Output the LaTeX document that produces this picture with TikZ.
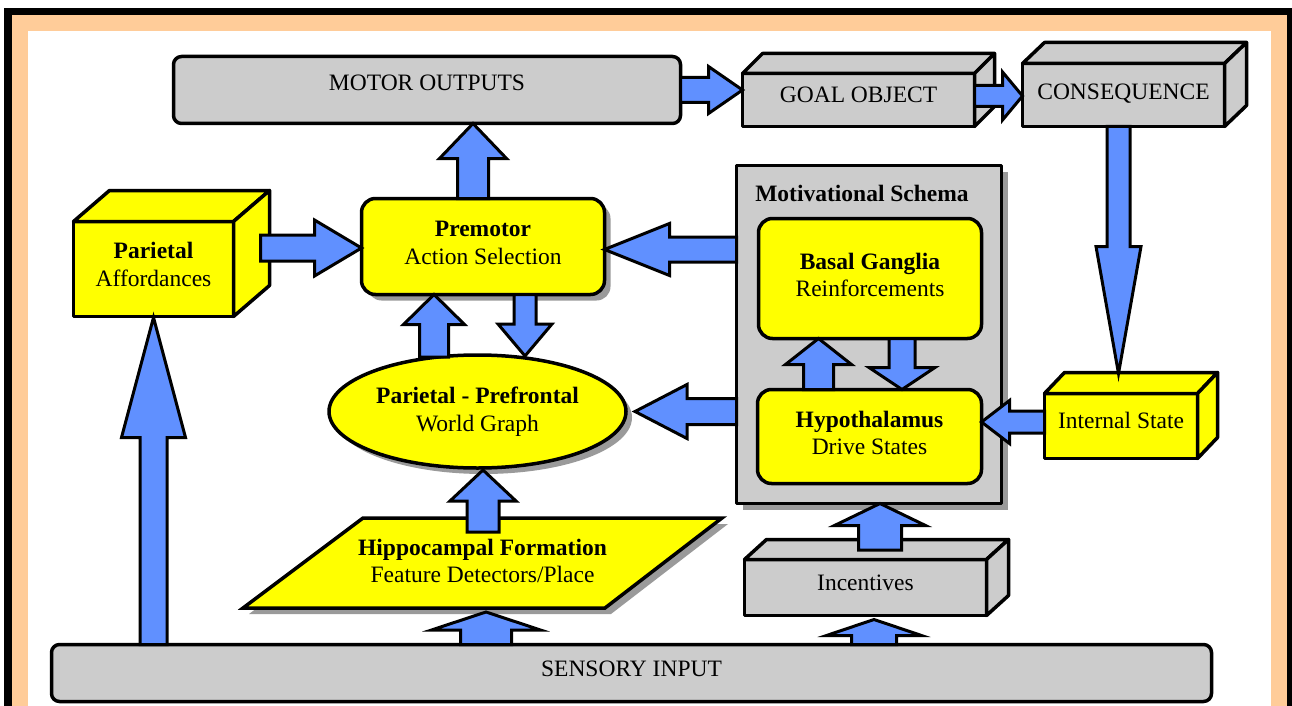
\documentclass[tikz,border=0pt]{standalone}
\usepackage{fontspec}
\setmainfont{Liberation Serif}
\usetikzlibrary{calc,shapes.geometric,shadows}
\definecolor{blu}{HTML}{6090FF}
\definecolor{org}{HTML}{FFCC99}
\definecolor{gry}{HTML}{CCCCCC}
\definecolor{yel}{HTML}{FFFF00}
\definecolor{shd}{HTML}{9A9A9A}
\tikzset{
 bx/.style={draw=black, line width=3.5pt, inner sep=0pt, outer sep=0pt, line join=round},
 rbox/.style={bx, rounded corners=8pt, fill=gry},
 ybox/.style={bx, rounded corners=14pt, fill=yel},
 shad/.style={drop shadow={shadow xshift=6pt, shadow yshift=-6pt, fill=shd, opacity=1}},
 barr/.style={draw=black, fill=blu, line width=3pt, line join=miter},
 txt/.style={font=\fontsize{23.5}{27.5}\selectfont, align=center, inner sep=0pt},
}
\newcommand\cubo[4]{%
 \draw[bx, fill=#4] (#1.north west) -- ++(#2,#3) -- ($(#1.north east)+(#2,#3)$) -- (#1.north east) -- cycle;
 \draw[bx, fill=#4] (#1.north east) -- ++(#2,#3) -- ($(#1.south east)+(#2,#3)$) -- (#1.south east) -- cycle;
}
\newcommand\blkarrow[5]{%
 \coordinate (ba-s) at (#1);
 \coordinate (ba-e) at (#2);
 \coordinate (ba-h) at ($(ba-e)!#5pt!(ba-s)$);
 \draw[barr] ($(ba-s)!#3pt!90:(ba-e)$) -- ($(ba-h)!#3pt!90:(ba-e)$) -- ($(ba-h)!#4pt!90:(ba-e)$) -- (ba-e)
   -- ($(ba-h)!#4pt!-90:(ba-e)$) -- ($(ba-h)!#3pt!-90:(ba-e)$) -- ($(ba-s)!#3pt!-90:(ba-e)$) -- cycle;
}
\begin{document}
\begin{tikzpicture}[x=1pt,y=-1pt]
\useasboundingbox (0,0) rectangle (1292,706);
% frame
\fill[black] (4,8) rectangle (1300,720);
\fill[org] (12,15) rectangle (1287,720);
\fill[white] (28,31) rectangle (1271,720);

% boxes
\node[rbox, txt, minimum width=507pt, minimum height=67pt, text depth=14pt] (mo) at (427,90) {MOTOR OUTPUTS};
\node[rbox, txt, minimum width=1160pt, minimum height=57pt, text depth=8pt] (sens) at (631.5,673) {SENSORY INPUT};

\node[bx, fill=gry, txt, minimum width=232pt, minimum height=53pt, text depth=10pt] (goal) at (858.5,100) {GOAL OBJECT};
\cubo{goal}{20}{-20}{gry}
\node[bx, fill=gry, txt, minimum width=202pt, minimum height=63pt, text depth=6pt] (cons) at (1123.5,95) {CONSEQUENCE};
\cubo{cons}{22}{-21}{gry}
\node[bx, fill=yel, txt, minimum width=153pt, minimum height=65pt, text depth=12pt] (is) at (1121,426) {Internal State};
\cubo{is}{20}{-21}{yel}
\node[bx, fill=gry, txt, minimum width=242pt, minimum height=56pt, text depth=9pt] (inc) at (865.5,587.5) {Incentives};
\cubo{inc}{22}{-20}{gry}
\node[bx, fill=yel, txt, minimum width=160pt, minimum height=95pt, text depth=9pt] (par) at (153.5,269) {\textbf{Parietal}\\Affordances};
\cubo{par}{36}{-31}{yel}

\node[ybox, shad, txt, minimum width=243pt, minimum height=96pt, text depth=7pt] (prem) at (483,246.5) {\textbf{Premotor}\\Action Selection};

\node[bx, fill=gry, shad, minimum width=265pt, minimum height=338pt] (mot) at (869,334.5) {};
\node[txt] (motl) at (862,193) {\textbf{Motivational Schema}};
\node[ybox, txt, minimum width=223pt, minimum height=120pt, text depth=7pt] (bg) at (870,278.5) {\textbf{Basal Ganglia}\\Reinforcements};
\node[ybox, txt, minimum width=224pt, minimum height=94pt, text depth=7pt] (hyp) at (869.5,436.5) {\textbf{Hypothalamus}\\Drive States};

\node[bx, ellipse, fill=yel, shad, txt, minimum width=297pt, minimum height=113pt] (pp) at (477.5,411.5) {\textbf{Parietal - Prefrontal}\\World Graph};

\begin{scope}[shift={(6,6)}]
\fill[shd] (363,518) -- (722,518) -- (605,608) -- (243,608) -- cycle;
\end{scope}
\draw[bx, fill=yel, line join=miter] (363,518) -- (722,518) -- (605,608) -- (243,608) -- cycle;
\node[txt] (hip) at (482.5,561) {\textbf{Hippocampal Formation}\\Feature Detectors/Place};
\coordinate (hipT) at (542.5,518);
\coordinate (hipB) at (424,608);

% block arrows
\blkarrow{mo.east}{goal.west |- ba-s}{12.5}{23.5}{34}
\blkarrow{$(goal.east)+(0,-4)$}{cons.west |- ba-s}{10.5}{24}{20}
\blkarrow{$(prem.north)+(-10,0)$}{mo.south -| ba-s}{15.5}{33.5}{35}
\blkarrow{$(par.east)+(27,-21)$}{prem.west |- ba-s}{13}{28}{47}
\blkarrow{$(mot.west |- prem.east)+(0,3)$}{prem.east |- ba-s}{12.5}{26}{65}
\blkarrow{mot.west |- pp.east}{$(pp.east)+(9,0)$}{13}{27}{52}
\blkarrow{$(is.west)+(0,-4)$}{hyp.east |- ba-s}{11}{21.5}{28}
\blkarrow{$(cons.south)+(-5,0)$}{$(ba-s |- is.north)+(0,-20)$}{11.5}{22.5}{127}
\blkarrow{$(hyp.north)+(-51,0)$}{bg.south -| ba-s}{15}{33}{26}
\blkarrow{$(bg.south)+(32,0)$}{hyp.north -| ba-s}{13}{33}{22}
\blkarrow{$(pp.north)+(-43.5,2)$}{prem.south -| ba-s}{14.5}{30.5}{30}
\blkarrow{$(prem.south)+(42,0)$}{$(ba-s |- pp.north)+(0,1)$}{11}{27}{32}
\blkarrow{$(hipT -| pp.south)+(5.5,14)$}{$(ba-s |- pp.south)+(0,2)$}{16}{33}{31}
\blkarrow{$(sens.north -| pp.south)+(8.5,0)$}{$(ba-s |- hipB)+(0,4)$}{25.5}{54.5}{18}
\blkarrow{$(sens.north -| inc.center)+(8.5,0)$}{$(ba-s |- inc.south)+(0,4)$}{22.5}{47.5}{16}
\blkarrow{$(inc.north)+(14.5,-9.5)$}{mot.south -| ba-s}{21.5}{45.5}{22}
\blkarrow{sens.north -| par.south}{$(par.south)+(0,1)$}{13.5}{32}{120}
\end{tikzpicture}
\end{document}
